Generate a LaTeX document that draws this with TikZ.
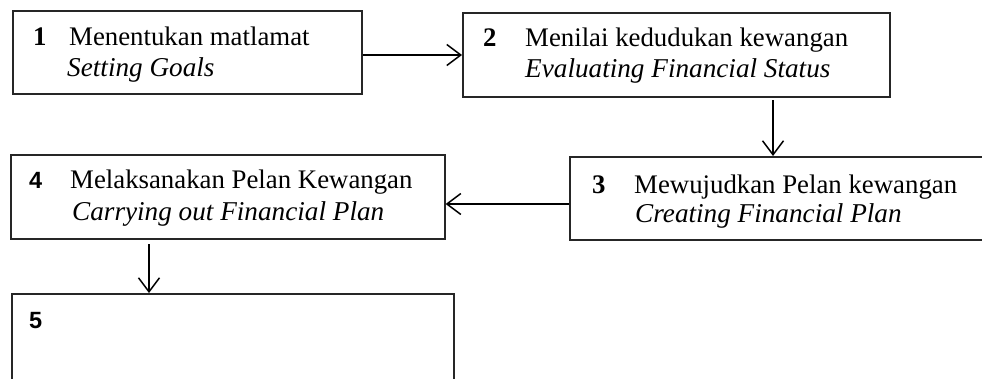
\documentclass[tikz,border=0pt]{standalone}
\usepackage{fontspec}
\setmainfont{Liberation Serif}
\newfontfamily\numsans{Liberation Sans}
\usetikzlibrary{arrows.meta}
\begin{document}
\begin{tikzpicture}[x=1pt,y=-1pt,
  box/.style={draw=black!85,line width=1.6pt,rectangle,inner sep=0pt,anchor=north west},
  txt/.style={anchor=base west,inner sep=0pt,font=\fontsize{26.8}{30}\selectfont},
  itxt/.style={txt,font=\fontsize{27.2}{30}\selectfont\itshape},
  num/.style={anchor=base west,inner sep=0pt,font=\fontsize{26.8}{30}\selectfont\bfseries},
  snum/.style={anchor=base west,inner sep=0pt,font=\numsans\fontsize{23.5}{26}\selectfont\bfseries},
  arr/.style={line width=1.5pt,-{Straight Barb[length=14pt,width=21pt,line width=1.5pt]}}]
\useasboundingbox (0,0) rectangle (982,378);
\clip (0,0) rectangle (982,378);
% boxes
\node[box,minimum width=349pt,minimum height=83pt] (b1) at (12,10) {};
\node[box,minimum width=427pt,minimum height=84pt] (b2) at (462,12) {};
\node[box,minimum width=425pt,minimum height=83pt] (b3) at (569,156) {};
\node[box,minimum width=434pt,minimum height=84pt] (b4) at (10,154) {};
\node[box,minimum width=442pt,minimum height=110pt] (b5) at (11,293) {};
% texts
\node[num] (n1) at (33,45) {1};
\node[txt] (t1a) at (69,45) {Menentukan matlamat};
\node[itxt] (t1b) at (67,76) {Setting Goals};
\node[num] (n2) at (483,46) {2};
\node[txt] (t2a) at (525,46) {Menilai kedudukan kewangan};
\node[itxt] (t2b) at (525,77) {Evaluating Financial Status};
\node[num] (n3) at (592,193) {3};
\node[txt] (t3a) at (634,193) {Mewujudkan Pelan kewangan};
\node[itxt] (t3b) at (635,222) {Creating Financial Plan};
\node[snum] (n4) at (29,188) {4};
\node[txt] (t4a) at (70,188) {Melaksanakan Pelan Kewangan};
\node[itxt] (t4b) at (72,220) {Carrying out Financial Plan};
\node[snum] (n5) at (29,328) {5};
% connectors
\coordinate (a12) at (b1.east |- 0,55);
\coordinate (a12e) at (b2.west |- 0,55);
\draw[arr] (a12) -- (a12e);
\coordinate (a23) at (773,100);
\coordinate (a23e) at (b3.north -| 773,0);
\draw[arr] (a23) -- (a23e);
\coordinate (a34) at (b3.west |- 0,204);
\coordinate (a34e) at (b4.east |- 0,204);
\draw[arr] (a34) -- (a34e);
\coordinate (a45) at (149,244);
\coordinate (a45e) at (b5.north -| 149,0);
\draw[arr] (a45) -- (a45e);
\end{tikzpicture}
\end{document}
